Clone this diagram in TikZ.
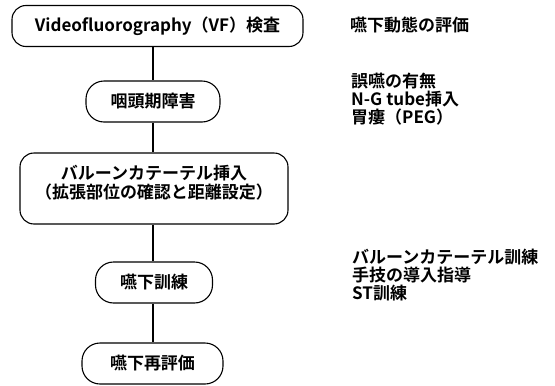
\documentclass[tikz,border=0pt]{standalone}
\usepackage{fontspec}
\setmainfont{Noto Sans CJK JP}[BoldFont={Noto Sans CJK JP Bold}]
\begin{document}
\begin{tikzpicture}[x=1pt,y=-1pt,
  flowbox/.style={draw,line width=1.1pt,rounded corners=14pt,minimum height=41pt,inner sep=0pt,font=\fontsize{17}{19}\selectfont\bfseries},
  note/.style={anchor=west,align=left,font=\fontsize{17}{18}\selectfont\bfseries,inner sep=0pt},
  link/.style={line width=1.1pt}]
\useasboundingbox (0,0) rectangle (555,386);
\node[flowbox,minimum width=291pt] (vf) at (157.5,26) {Videofluorography（VF）検査};
\node[flowbox,minimum width=134pt,rounded corners=18pt] (pd) at (153,101.5) {咽頭期障害};
\node[flowbox,minimum width=268pt,minimum height=71pt,align=center] (bc) at (154,188.5) {バルーンカテーテル挿入\\（拡張部位の確認と距離設定）\\[-5pt]};
\node[flowbox,minimum width=117pt,rounded corners=18pt] (st) at (154,282.5) {嚥下訓練};
\node[flowbox,minimum width=141pt,rounded corners=18pt] (re) at (152.5,363.5) {嚥下再評価};
\draw[link] (vf.south -| pd.north) -- (pd.north);
\draw[link] (pd.south) -- (pd.south |- bc.north);
\draw[link] (bc.south -| pd.south) -- (st.north -| pd.south);
\draw[link] (st.south -| pd.south) -- (re.north -| pd.south);
\node[note] (n1) at (350,25) {嚥下動態の評価};
\node[note] (n2) at (351,99) {誤嚥の有無\\N-G tube挿入\\胃瘻（PEG）};
\node[note] (n3) at (352,275) {バルーンカテーテル訓練\\手技の導入指導\\ST訓練};
\end{tikzpicture}
\end{document}
